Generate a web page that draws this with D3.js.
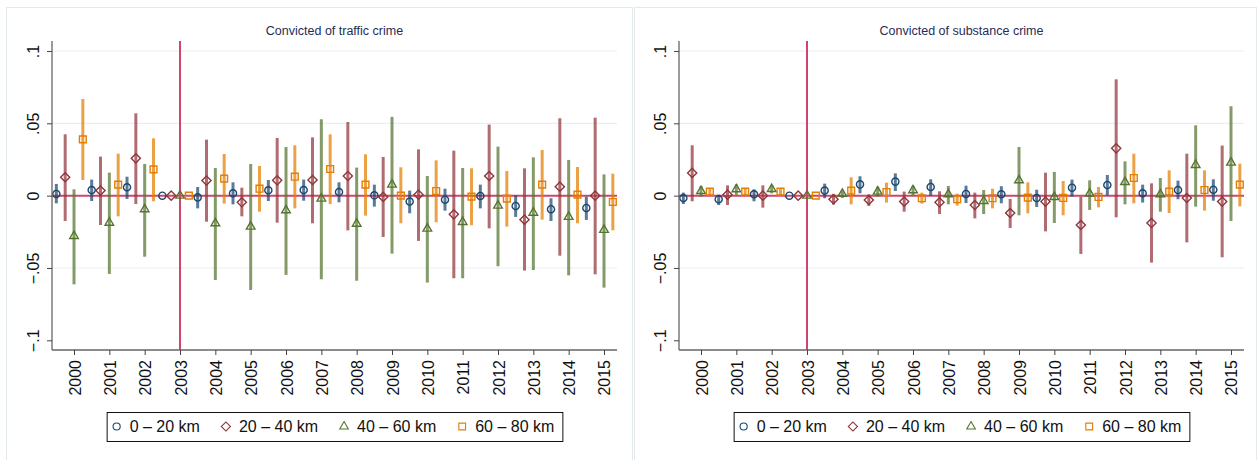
<!DOCTYPE html>
<html>
<head>
<meta charset="utf-8">
<script src="https://cdn.jsdelivr.net/npm/d3@7"></script>
<style>
  body { margin: 0; background: #fff; }
  svg { display: block; font-family: "Liberation Sans", Arial, sans-serif; }
</style>
</head>
<body>
<svg id="chart" width="1258" height="460"></svg>
<script>
// years on the x axis
var years = d3.range(2000, 2016)
var seriesNames = ["0 \u2013 20 km", "20 \u2013 40 km", "40 \u2013 60 km", "60 \u2013 80 km"]
var titles = ["Convicted of traffic crime", "Convicted of substance crime"]
var yTicks = [-0.1, -0.05, 0, 0.05, 0.1]
var yTickLabels = ["\u2212.1", "\u2212.05", "0", ".05", ".1"]

// [estimate, ci low, ci high] per year, traffic crime
var traffic_0_20 = [[0.0012,-0.0053,0.0081],[0.0039,-0.0037,0.0111],[0.0058,-0.0023,0.0131],[0,0,0],
  [-0.0012,-0.0088,0.006],[0.0016,-0.006,0.0092],[0.0037,-0.0037,0.0108],[0.0039,-0.0035,0.0111],
  [0.0025,-0.0046,0.0092],[0.0002,-0.0076,0.0076],[-0.0041,-0.0122,0.0035],[-0.0028,-0.0104,0.0048],
  [-0.0002,-0.0088,0.0076],[-0.0071,-0.0147,0.0002],[-0.0094,-0.0175,-0.0018],[-0.0085,-0.0168,-0.0007]]
var traffic_20_40 = [[0.0127,-0.0175,0.0424],[0.0035,-0.0203,0.027],[0.0258,-0.0058,0.0569],[0,0,0],
  [0.0104,-0.018,0.0387],[-0.0046,-0.0143,0.0055],[0.0106,-0.0187,0.0399],[0.0108,-0.0191,0.0403],
  [0.0136,-0.024,0.0509],[-0.0009,-0.0286,0.0267],[0.0007,-0.0313,0.032],[-0.0129,-0.0571,0.0311],
  [0.0136,-0.0226,0.0491],[-0.0166,-0.0518,0.0189],[0.0062,-0.0415,0.0535],[0,-0.0544,0.0539]]
var traffic_40_60 = [[-0.0279,-0.0613,0.0044],[-0.0187,-0.0541,0.0159],[-0.0094,-0.0422,0.0219],[0,0,0],
  [-0.0191,-0.0583,0.0191],[-0.0214,-0.0652,0.0219],[-0.0101,-0.0548,0.0336],[-0.0021,-0.0578,0.0528],
  [-0.0194,-0.0588,0.0194],[0.0076,-0.0401,0.0544],[-0.0228,-0.0601,0.0136],[-0.0182,-0.0571,0.0191],
  [-0.0069,-0.0488,0.0339],[-0.0118,-0.0514,0.0265],[-0.0147,-0.0551,0.0247],[-0.0237,-0.0636,0.0147]]
var traffic_60_80 = [[0.0389,0.0108,0.0668],[0.0076,-0.0143,0.029],[0.0182,-0.0039,0.0396],[0,0,0],
  [0.0118,-0.0055,0.0288],[0.0048,-0.0111,0.0205],[0.0131,-0.0088,0.0348],[0.0184,-0.0058,0.0424],
  [0.0076,-0.0138,0.0286],[0,-0.0191,0.0196],[0.0032,-0.0184,0.0244],[-0.0007,-0.0205,0.0189],
  [-0.0021,-0.0214,0.0171],[0.0076,-0.0166,0.0316],[0.0007,-0.0191,0.0198],[-0.0044,-0.024,0.0152]]

// [estimate, ci low, ci high] per year, substance crime
var substance_0_20 = [[-0.0016,-0.0058,0.0021],[-0.0025,-0.0065,0.0007],[0.0009,-0.0039,0.0044],[0,0,0],
  [0.0035,-0.0018,0.0083],[0.0078,0.0016,0.0134],[0.0097,0.0032,0.0154],[0.006,0,0.0113],
  [0.0012,-0.0051,0.0069],[0.0009,-0.0053,0.0065],[-0.0016,-0.0078,0.0041],[0.0055,-0.0007,0.0111],
  [0.0074,0.0002,0.0143],[0.0016,-0.0048,0.0076],[0.0039,-0.0025,0.0104],[0.0041,-0.0035,0.0113]]
var substance_20_40 = [[0.0157,-0.0039,0.0348],[0.0007,-0.0065,0.0071],[0,-0.0083,0.0071],[0,0,0],
  [-0.0025,-0.0062,0.0012],[-0.003,-0.0071,0.0009],[-0.0041,-0.0111,0.0028],[-0.0046,-0.0127,0.003],
  [-0.0065,-0.0157,0.0021],[-0.012,-0.0224,-0.0023],[-0.0041,-0.0247,0.0159],[-0.0203,-0.0403,-0.0007],
  [0.0327,-0.015,0.0804],[-0.0189,-0.0463,0.0085],[-0.0016,-0.0323,0.029],[-0.0041,-0.0426,0.0346]]
var substance_40_60 = [[0.0032,-0.0007,0.0067],[0.0044,0.0005,0.0078],[0.0046,0.0016,0.0074],[0,0,0],
  [0.0012,-0.0016,0.0037],[0.0028,-0.0007,0.0062],[0.0037,0.0002,0.0067],[0.0009,-0.006,0.0067],
  [-0.0037,-0.0127,0.0039],[0.0106,-0.0136,0.0336],[-0.0009,-0.0189,0.0164],[0.0014,-0.0099,0.0106],
  [0.0094,-0.006,0.0237],[0.0009,-0.0111,0.0122],[0.0212,-0.0076,0.0486],[0.0228,-0.0175,0.0618]]
var substance_60_80 = [[0.0028,0.0002,0.0053],[0.0028,0.0002,0.0053],[0.0028,0,0.0053],[0,0,0],
  [0.0035,-0.006,0.0127],[0.0025,-0.0048,0.009],[-0.0018,-0.0055,0.0021],[-0.0025,-0.0069,0.0014],
  [-0.0018,-0.0088,0.0048],[-0.0014,-0.0122,0.0092],[-0.0016,-0.0136,0.0101],[-0.0009,-0.0081,0.006],
  [0.0122,-0.0053,0.029],[0.0028,-0.012,0.0175],[0.0039,-0.0104,0.0175],[0.0076,-0.0074,0.0221]]

var colors = ["#1a476f", "#90353b", "#55752f", "#e37e00"]
var offsets = [-0.5, -0.25, 0, 0.25]
var symbols = [
  d3.symbol().type(d3.symbolCircle).size(40),
  d3.symbol().type(d3.symbolSquare).size(42),
  d3.symbol().type(d3.symbolTriangle).size(32),
  d3.symbol().type(d3.symbolSquare).size(46)
]
var rotations = [0, 45, 0, 0]

var svg = d3.select("#chart")

// panel frames
svg.append("rect").attr("x", 6.5).attr("y", 7.5).attr("width", 626).attr("height", 460)
  .attr("fill", "none").attr("stroke", "#e3eaee")
svg.append("rect").attr("x", 634.5).attr("y", 7.5).attr("width", 622).attr("height", 460)
  .attr("fill", "none").attr("stroke", "#e3eaee")

function drawPanel(dx, title, panelData) {
  var g = svg.append("g").attr("transform", "translate(" + dx + ",0)")

  var x = d3.scaleLinear().domain([1999.377, 2015.368]).range([52, 617])
  var y = d3.scaleLinear().domain([-0.1067, 0.1069]).range([350, 41])

  // grid
  g.selectAll(".grid").data([0.1, 0.05, -0.05]).enter().append("line")
    .attr("x1", x.range()[0]).attr("x2", x.range()[1])
    .attr("y1", d => y(d)).attr("y2", d => y(d))
    .attr("stroke", "#e8eff1").attr("stroke-width", 1.2)

  // reference lines
  g.append("line").attr("x1", x.range()[0]).attr("x2", x.range()[1])
    .attr("y1", y(0)).attr("y2", y(0))
    .attr("stroke", "#d1456b").attr("stroke-width", 2)
  g.append("line").attr("x1", x(2003)).attr("x2", x(2003))
    .attr("y1", 41).attr("y2", 350)
    .attr("stroke", "#d1456b").attr("stroke-width", 2)

  // confidence bars
  panelData.forEach(function (series, si) {
    g.selectAll(".ci" + si).data(series).enter().append("line")
      .attr("x1", (d, i) => x(years[i] + offsets[si]))
      .attr("x2", (d, i) => x(years[i] + offsets[si]))
      .attr("y1", d => y(d[1])).attr("y2", d => y(d[2]))
      .attr("stroke", colors[si]).attr("stroke-opacity", 0.72)
      .attr("stroke-width", 3)
  })
  // markers
  panelData.forEach(function (series, si) {
    g.selectAll(".m" + si).data(series).enter().append("path")
      .attr("d", symbols[si])
      .attr("transform", (d, i) => "translate(" + x(years[i] + offsets[si]) + "," + y(d[0]) + ") rotate(" + rotations[si] + ")")
      .attr("fill", "none").attr("stroke", colors[si]).attr("stroke-width", 1.4)
  })

  // axes
  var yAxis = d3.axisLeft(y).tickValues(yTicks).tickSize(5).tickSizeOuter(0)
    .tickFormat((d, i) => yTickLabels[i])
  var ya = g.append("g").attr("transform", "translate(52,0)").call(yAxis)
  ya.select(".domain").attr("stroke", "#666").attr("stroke-width", 1.3)
    .attr("d", "M0,41V350")
  ya.selectAll(".tick line").attr("stroke", "#444")
  ya.selectAll(".tick text").attr("x", null).attr("dy", null)
    .attr("transform", "translate(-13,0) rotate(-90)")
    .attr("text-anchor", "middle").attr("font-size", 16).attr("fill", "#111")

  var xAxis = d3.axisBottom(x).tickValues(years).tickSize(5).tickSizeOuter(0)
    .tickFormat(d3.format("d"))
  var xa = g.append("g").attr("transform", "translate(0,350)").call(xAxis)
  xa.select(".domain").attr("stroke", "#666").attr("stroke-width", 1.3)
    .attr("d", "M52,0H617")
  xa.selectAll(".tick line").attr("stroke", "#444")
  xa.selectAll(".tick text").attr("y", null).attr("dy", null)
    .attr("transform", "translate(6,10) rotate(-90)")
    .attr("text-anchor", "end").attr("font-size", 16).attr("fill", "#111")

  // title
  g.append("text").attr("x", (52 + 617) / 2).attr("y", 35)
    .attr("text-anchor", "middle").attr("font-size", 12.5).attr("fill", "#1f2d55")
    .text(title)

  // legend
  var lg = g.append("g")
  var items = []
  var cursor = 0
  seriesNames.forEach(function (name, si) {
    var t = lg.append("text").attr("y", 432).attr("font-size", 16).attr("fill", "#111").text(name)
    var w = t.node().getComputedTextLength()
    items.push({ t: t, si: si, start: cursor })
    cursor += 13 + w + (si < seriesNames.length - 1 ? 26 : 0)
  })
  var boxW = cursor + 18
  var left = (52 + 617) / 2 - boxW / 2
  lg.insert("rect", ":first-child").attr("x", left + 0.5).attr("y", 412.5)
    .attr("width", boxW).attr("height", 29)
    .attr("fill", "#fff").attr("stroke", "#111").attr("stroke-width", 1)
  items.forEach(function (it) {
    var mx = left + 10 + it.start
    lg.append("path").attr("d", symbols[it.si])
      .attr("transform", "translate(" + mx + ",426.5) rotate(" + rotations[it.si] + ")")
      .attr("fill", "none").attr("stroke", colors[it.si]).attr("stroke-width", 1.1)
    it.t.attr("x", mx + 13)
  })
}

drawPanel(0, titles[0], [traffic_0_20, traffic_20_40, traffic_40_60, traffic_60_80])
drawPanel(627, titles[1], [substance_0_20, substance_20_40, substance_40_60, substance_60_80])
</script>
</body>
</html>
